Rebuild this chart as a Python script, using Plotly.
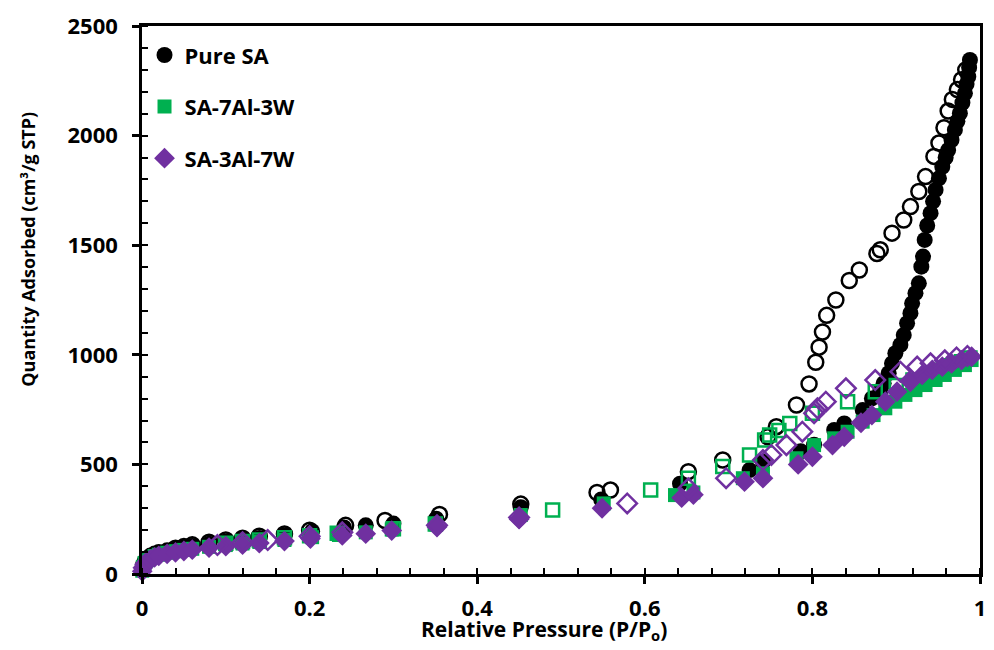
import plotly.graph_objects as go

# Pure SA
sa_ads_p = [0.0003, 0.001, 0.003, 0.006, 0.01, 0.015, 0.02, 0.03, 0.04, 0.05, 0.06, 0.08, 0.10, 0.12, 0.14,
            0.17, 0.203, 0.241, 0.267, 0.300, 0.351, 0.452, 0.548, 0.642, 0.725, 0.741, 0.786, 0.802, 0.826,
            0.838, 0.860, 0.871, 0.881, 0.885, 0.891, 0.895, 0.899, 0.905, 0.909, 0.913, 0.917, 0.919, 0.923,
            0.927, 0.930, 0.932, 0.934, 0.937, 0.941, 0.944, 0.947, 0.951, 0.955, 0.959, 0.962, 0.966, 0.970,
            0.973, 0.976, 0.979, 0.982, 0.984, 0.986, 0.987, 0.988]
sa_ads_q = [20, 40, 58, 72, 84, 93, 100, 108, 116, 122, 128, 138, 148, 156, 164,
            177, 195, 212, 222, 230, 252, 305, 340, 412, 474, 512, 560, 590, 657,
            687, 748, 801, 835, 870, 916, 961, 1007, 1045, 1090, 1144, 1190, 1235, 1281,
            1326, 1402, 1448, 1524, 1590, 1646, 1700, 1752, 1805, 1858, 1900, 1934, 1980, 2026,
            2065, 2102, 2150, 2193, 2235, 2269, 2310, 2345]
sa_des_p = [0.983, 0.978, 0.973, 0.967, 0.962, 0.957, 0.951, 0.945, 0.935, 0.927, 0.917, 0.909, 0.895,
            0.881, 0.877, 0.856, 0.844, 0.828, 0.817, 0.812, 0.808, 0.804, 0.796, 0.781, 0.757, 0.747,
            0.693, 0.652, 0.559, 0.543, 0.452, 0.355, 0.290, 0.243, 0.200, 0.170, 0.140, 0.120, 0.100,
            0.080, 0.060, 0.050, 0.040]
sa_des_q = [2300, 2255, 2210, 2165, 2112, 2036, 1966, 1905, 1813, 1745, 1676, 1615, 1555,
            1479, 1462, 1387, 1339, 1250, 1180, 1104, 1035, 966, 867, 771, 672, 626,
            520, 467, 383, 372, 319, 272, 244, 222, 200, 183, 172, 163, 155,
            145, 133, 125, 118]

# SA-7Al-3W
al7_ads_p = [0.0003, 0.001, 0.003, 0.006, 0.01, 0.015, 0.02, 0.03, 0.04, 0.05, 0.06, 0.08, 0.10, 0.12, 0.14,
             0.17, 0.203, 0.235, 0.267, 0.298, 0.351, 0.452, 0.551, 0.636, 0.658, 0.717, 0.741, 0.781, 0.802,
             0.826, 0.842, 0.860, 0.873, 0.887, 0.899, 0.911, 0.923, 0.935, 0.947, 0.958, 0.970, 0.982, 0.990]
al7_ads_q = [15, 32, 50, 63, 73, 82, 88, 97, 104, 110, 115, 124, 132, 139, 146,
             155, 168, 178, 190, 203, 226, 269, 322, 360, 372, 437, 459, 528, 588,
             619, 649, 695, 725, 756, 786, 817, 839, 862, 885, 908, 931, 953, 976]
al7_des_p = [0.988, 0.978, 0.966, 0.952, 0.938, 0.920, 0.900, 0.875, 0.842, 0.800, 0.773, 0.760, 0.749,
             0.743, 0.725, 0.693, 0.652, 0.607, 0.490, 0.350, 0.300, 0.233, 0.200, 0.170, 0.140, 0.120, 0.100]
al7_des_q = [985, 968, 950, 930, 910, 885, 860, 832, 786, 733, 687, 655, 634,
             611, 543, 490, 437, 383, 292, 228, 206, 186, 175, 165, 155, 148, 140]

# SA-3Al-7W
al3_ads_p = [0.0003, 0.001, 0.003, 0.006, 0.01, 0.015, 0.02, 0.03, 0.04, 0.05, 0.06, 0.08, 0.10, 0.12, 0.14,
             0.17, 0.201, 0.239, 0.267, 0.298, 0.352, 0.450, 0.549, 0.644, 0.658, 0.719, 0.741, 0.783, 0.800,
             0.824, 0.838, 0.858, 0.871, 0.887, 0.901, 0.917, 0.931, 0.943, 0.955, 0.966, 0.978, 0.990]
al3_ads_q = [12, 28, 45, 57, 67, 76, 83, 92, 99, 105, 111, 120, 127, 134, 141,
             150, 162, 176, 184, 198, 214, 250, 300, 348, 362, 421, 437, 500, 535,
             588, 626, 690, 725, 786, 832, 877, 908, 931, 946, 961, 976, 991]
al3_des_p = [0.985, 0.972, 0.958, 0.941, 0.925, 0.905, 0.875, 0.840, 0.816, 0.806, 0.802, 0.788, 0.769,
             0.751, 0.741, 0.697, 0.652, 0.579, 0.450, 0.352, 0.239, 0.200, 0.150, 0.120, 0.090]
al3_des_q = [995, 988, 975, 961, 946, 923, 885, 847, 786, 756, 733, 649, 588,
             543, 520, 437, 391, 322, 258, 222, 190, 172, 155, 145, 132]

BLACK = 'black'
GREEN = '#00B050'
PURPLE = '#7030A0'
FONT = 'Open Sans'

fig = go.Figure()

series = [
    ('Pure SA', sa_ads_p, sa_ads_q, sa_des_p, sa_des_q, BLACK, 'circle', 16),
    ('SA-7Al-3W', al7_ads_p, al7_ads_q, al7_des_p, al7_des_q, GREEN, 'square', 14),
    ('SA-3Al-7W', al3_ads_p, al3_ads_q, al3_des_p, al3_des_q, PURPLE, 'diamond', 16),
]

for name, ap, aq, dp, dq, col, sym, size in series:
    fig.add_trace(go.Scatter(x=ap, y=aq, mode='markers', name=name, legendgroup=name,
                             marker=dict(symbol=sym, size=size, color=col), cliponaxis=False))
    fig.add_trace(go.Scatter(x=dp, y=dq, mode='markers', name=name + ' des', legendgroup=name,
                             showlegend=False,
                             marker=dict(symbol=sym + '-open', size=size - 1, color=col,
                                         line=dict(color=col, width=2.5)),
                             cliponaxis=False))

axis_common = dict(showline=True, linecolor='black', linewidth=2.5, mirror=True,
                   showgrid=False, zeroline=False, ticks='outside', ticklen=7, tickwidth=2.5,
                   tickcolor='black', tickfont=dict(family=FONT, size=22, color='black', weight='bold'))

fig.update_layout(
    width=994, height=650,
    margin=dict(l=142, r=8, t=26, b=76),
    paper_bgcolor='white', plot_bgcolor='white',
    xaxis=dict(range=[0, 1], dtick=0.2, ticklabelstandoff=6,
               minor=dict(dtick=0.04, ticks='inside', ticklen=6, tickwidth=2, tickcolor='black'),
               **axis_common),
    yaxis=dict(range=[0, 2500], dtick=500, ticklabelstandoff=10,
               minor=dict(dtick=100, ticks='inside', ticklen=6, tickwidth=2, tickcolor='black'),
               **axis_common),
    # overlay axes only used for the inner half of the major ticks
    xaxis2=dict(overlaying='x', anchor='y', range=[0, 1], dtick=0.2, ticks='inside', ticklen=6,
                tickwidth=2.5, tickcolor='black', showticklabels=False, showgrid=False,
                zeroline=False, showline=False),
    yaxis2=dict(overlaying='y', anchor='x', side='left', range=[0, 2500], dtick=500, ticks='inside',
                ticklen=6, tickwidth=2.5, tickcolor='black', showticklabels=False, showgrid=False,
                zeroline=False, showline=False),
    legend=dict(x=0.003, y=0.985, xanchor='left', yanchor='top', bgcolor='rgba(0,0,0,0)',
                font=dict(family=FONT, size=22, color='black', weight='bold'),
                tracegroupgap=20),
    showlegend=True,
    annotations=[
        dict(text='Quantity Adsorbed (cm³/g STP)', xref='paper', yref='paper',
             x=-0.1364, y=0.593, xanchor='center', yanchor='middle', textangle=-90, showarrow=False,
             font=dict(family=FONT, size=18, color='black', weight='bold')),
        dict(text='Relative Pressure (P/P<sub>o</sub>)', xref='paper', yref='paper',
             x=0.480, y=-0.103, xanchor='center', yanchor='middle', showarrow=False,
             font=dict(family=FONT, size=21, color='black', weight='bold')),
    ],
)

# drop the default 8px page margin so the figure fills the window exactly
fig.write_html("out.html", config={'displayModeBar': False},
               post_script="document.body.style.margin='0';document.body.style.overflow='hidden';")
